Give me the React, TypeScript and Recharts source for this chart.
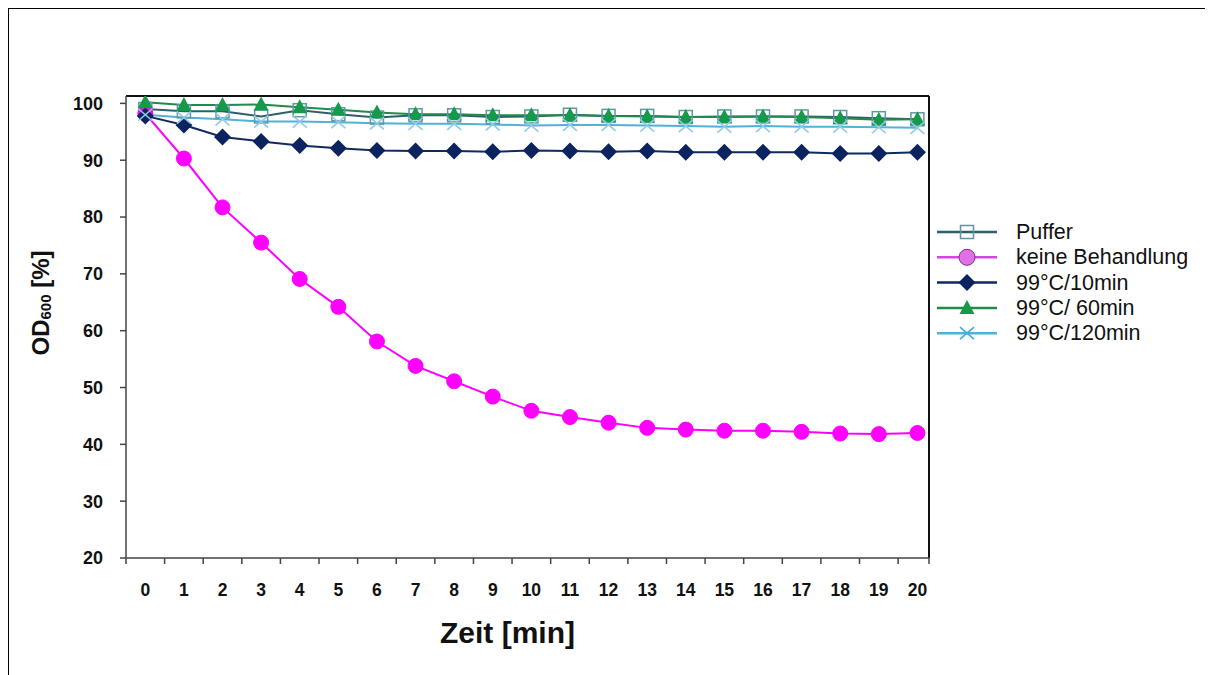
import React from 'react'
import { LineChart, Line, XAxis, YAxis, ReferenceLine } from 'recharts'

const time = [0, 1, 2, 3, 4, 5, 6, 7, 8, 9, 10, 11, 12, 13, 14, 15, 16, 17, 18, 19, 20]
const puffer = [99.0, 98.6, 98.6, 97.7, 98.8, 98.1, 97.5, 97.9, 97.9, 97.6, 97.7, 98.0, 97.8, 97.8, 97.6, 97.7, 97.7, 97.7, 97.6, 97.4, 97.2]
const keineBehandlung = [98.2, 90.3, 81.7, 75.5, 69.1, 64.2, 58.1, 53.8, 51.1, 48.4, 45.9, 44.8, 43.8, 42.9, 42.6, 42.4, 42.4, 42.2, 41.9, 41.8, 42.0]
const c99_10 = [97.8, 96.2, 94.1, 93.3, 92.6, 92.1, 91.7, 91.6, 91.6, 91.5, 91.7, 91.6, 91.5, 91.6, 91.4, 91.4, 91.4, 91.4, 91.2, 91.2, 91.4]
const c99_60 = [100.2, 99.7, 99.7, 99.8, 99.3, 98.9, 98.4, 98.1, 98.1, 97.9, 97.9, 97.9, 97.8, 97.7, 97.6, 97.6, 97.7, 97.6, 97.4, 97.1, 97.2]
const c99_120 = [98.0, 97.5, 97.2, 96.8, 96.8, 96.7, 96.5, 96.4, 96.4, 96.3, 96.1, 96.2, 96.2, 96.1, 96.0, 95.9, 96.0, 95.9, 95.9, 95.8, 95.7]
const yTicks = [20, 30, 40, 50, 60, 70, 80, 90, 100]
const yMax = 101.3
const xMin = -0.5
const xMax = 20.3

const data = time.map((t, i) => ({
  t,
  puffer: puffer[i],
  keine: keineBehandlung[i],
  c10: c99_10[i],
  c60: c99_60[i],
  c120: c99_120[i],
}))

// tick marks sit between categories, labels on them
const xTicks = [...time.map((t) => t - 0.5), ...time, xMax].sort((a, b) => a - b)

const FONT = '"Liberation Sans", Arial, sans-serif'

type Shape = 'square' | 'circle' | 'diamond' | 'triangle' | 'x'

const series: { key: string; name: string; line: string; marker: string; shape: Shape }[] = [
  { key: 'puffer', name: 'Puffer', line: '#2f5f6b', marker: '#5f98a2', shape: 'square' },
  { key: 'keine', name: 'keine Behandlung', line: '#ff00ff', marker: '#ff00ff', shape: 'circle' },
  { key: 'c10', name: '99°C/10min', line: '#0f2a5f', marker: '#0b2460', shape: 'diamond' },
  { key: 'c60', name: '99°C/ 60min', line: '#1f8a4c', marker: '#15994a', shape: 'triangle' },
  { key: 'c120', name: '99°C/120min', line: '#4fb2d6', marker: '#8fcbe8', shape: 'x' },
]

function Marker({ shape, cx, cy, color }: { shape: Shape; cx: number; cy: number; color: string }) {
  if (cx == null || cy == null) return null
  switch (shape) {
    case 'square':
      return <rect x={cx - 6.5} y={cy - 6.5} width={13} height={13} fill="none" stroke={color} strokeWidth={1.5} />
    case 'circle':
      return <circle cx={cx} cy={cy} r={7.5} fill={color} stroke={color} />
    case 'diamond':
      return <polygon points={`${cx},${cy - 8.5} ${cx + 8.5},${cy} ${cx},${cy + 8.5} ${cx - 8.5},${cy}`} fill={color} />
    case 'triangle':
      return <polygon points={`${cx},${cy - 8} ${cx + 7.5},${cy + 6} ${cx - 7.5},${cy + 6}`} fill={color} />
    case 'x':
      return (
        <g stroke={color} strokeWidth={1.6}>
          <line x1={cx - 7} y1={cy - 6} x2={cx + 7} y2={cy + 6} />
          <line x1={cx - 7} y1={cy + 6} x2={cx + 7} y2={cy - 6} />
        </g>
      )
  }
  return null
}

function XTick(props: any) {
  const { x, y, payload } = props
  const v = payload.value
  if (Number.isInteger(v)) {
    return (
      <text x={x} y={y + 32} textAnchor="middle" dominantBaseline="central" fontFamily={FONT} fontWeight="bold" fontSize={17.5} fill="#111">
        {v}
      </text>
    )
  }
  return <line x1={x} y1={y} x2={x} y2={y + 6} stroke="#444" strokeWidth={1.5} />
}

function Legend() {
  return (
    <svg width={285} height={140} style={{ position: 'absolute', left: 928, top: 211 }}>
      {series.map((s, i) => {
        const cy = 12 + i * 25.3
        return (
          <g key={s.key}>
            <line x1={0} y1={cy} x2={60} y2={cy} stroke={s.key === 'keine' ? '#d048e0' : s.line} strokeWidth={2.5} />
            {s.shape === 'circle' ? (
              <circle cx={30} cy={cy} r={8} fill="#e070e8" stroke="#8a2a8a" />
            ) : (
              <Marker shape={s.shape} cx={30} cy={cy} color={s.shape === 'x' ? '#3aaee0' : s.marker} />
            )}
            <text x={79} y={cy} dominantBaseline="central" fontFamily={FONT} fontSize={21.5} fill="#111">
              {s.name}
            </text>
          </g>
        )
      })}
    </svg>
  )
}

export default function App() {
  return (
    <div
      style={{
        position: 'relative',
        width: 1203,
        height: 666,
        borderTop: '3px solid #000',
        borderLeft: '3px solid #000',
        margin: '-2px 0 0 -2px',
        background: '#fff',
      }}
    >
      <style>{'html,body{overflow:hidden}'}</style>
      <LineChart width={1200} height={660} data={data} margin={{ top: 87, right: 280, bottom: 71, left: 57 }}>
        <XAxis
          type="number"
          dataKey="t"
          domain={[xMin, xMax]}
          allowDataOverflow
          ticks={xTicks}
          interval={0}
          tickSize={0}
          tickMargin={0}
          tickLine={false}
          tick={<XTick />}
          height={40}
          axisLine={{ stroke: '#444', strokeWidth: 1.5 }}
          label={{
            content: ({ viewBox }: any) => (
              <text x={viewBox.x + viewBox.width / 2 - 20} y={viewBox.y + 85} textAnchor="middle" fontFamily={FONT} fontWeight="bold" fontSize={30} fill="#111">
                Zeit [min]
              </text>
            ),
          }}
        />
        <YAxis
          type="number"
          domain={[20, yMax]}
          allowDataOverflow
          ticks={yTicks}
          interval={0}
          width={60}
          tickSize={6}
          tickMargin={17}
          tick={{ fontFamily: FONT, fontWeight: 'bold', fontSize: 18, fill: '#111' }}
          tickLine={{ stroke: '#444', strokeWidth: 1.5 }}
          axisLine={{ stroke: '#444', strokeWidth: 1.5 }}
          label={{
            content: ({ viewBox }: any) => {
              const cx = viewBox.x - 26
              const cy = viewBox.y + viewBox.height / 2 - 24
              return (
                <text x={cx} y={cy} transform={`rotate(-90 ${cx} ${cy})`} textAnchor="middle" dominantBaseline="central" fontFamily={FONT} fontWeight="bold" fontSize={24} fill="#111">
                  OD<tspan fontSize={15} dy={5}>600</tspan>
                  <tspan dy={-5}> [%]</tspan>
                </text>
              )
            },
          }}
        />
        <ReferenceLine y={yMax} stroke="#111" strokeWidth={2} />
        <ReferenceLine x={xMax} stroke="#111" strokeWidth={2} />
        {series.map((s) => (
          <Line
            key={s.key}
            dataKey={s.key}
            name={s.name}
            stroke={s.line}
            strokeWidth={2}
            isAnimationActive={false}
            activeDot={false}
            dot={(p: any) => <Marker key={`${s.key}-${p.index}`} shape={s.shape} cx={p.cx} cy={p.cy} color={s.marker} />}
          />
        ))}
      </LineChart>
      <Legend />
    </div>
  )
}
